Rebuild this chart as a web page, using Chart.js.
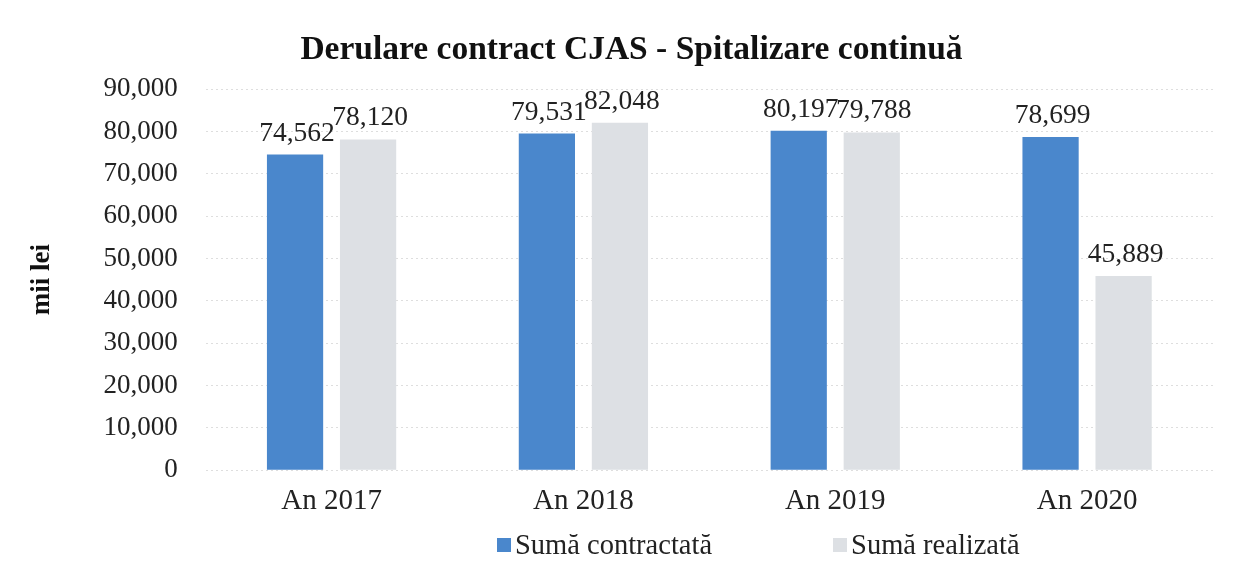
<!DOCTYPE html>
<html>
<head>
<meta charset="utf-8">
<script src="https://cdn.jsdelivr.net/npm/chart.js@4.4.1/dist/chart.umd.min.js"></script>
<style>
  html, body { margin: 0; padding: 0; background: #fff; }
  #wrap { position: relative; width: 1237px; height: 576px; }
  #legend { position: absolute; left: 497px; top: 529px; white-space: nowrap;
    font-family: "Liberation Serif", serif; font-size: 28.5px; color: #222; }
  #legend span.item { display: inline-block; margin-right: 121px; }
  #legend span.box { display: inline-block; width: 14px; height: 14px; margin-right: 4px; vertical-align: 2px; }
</style>
</head>
<body>
<div id="wrap">
  <canvas id="myChart" width="1237" height="576"></canvas>
  <div id="legend"></div>
</div>
<script>
const years = ['An 2017', 'An 2018', 'An 2019', 'An 2020'];
const contractata = [74562, 79531, 80197, 78699];
const realizata = [78120, 82048, 79788, 45889];
const seriesNames = ['Sumă contractată', 'Sumă realizată'];
const colors = ['#4a87cc', '#dde0e4'];

const serif = '"Liberation Serif", "Times New Roman", serif';

const fmt = v => v.toLocaleString('en-US');

// etichete de valoare deasupra barelor
const valueLabels = {
  id: 'valueLabels',
  afterDatasetsDraw(chart) {
    const ctx = chart.ctx;
    ctx.save();
    ctx.font = '27.5px ' + serif;
    ctx.fillStyle = '#222';
    ctx.textAlign = 'center';
    ctx.textBaseline = 'alphabetic';
    chart.data.datasets.forEach((ds, i) => {
      chart.getDatasetMeta(i).data.forEach((bar, j) => {
        ctx.fillText(fmt(ds.data[j]), bar.x + 2, bar.y - 14);
      });
    });
    ctx.restore();
  }
};

const data = {
  labels: years,
  datasets: [
    { label: seriesNames[0], data: contractata, backgroundColor: colors[0] },
    { label: seriesNames[1], data: realizata, backgroundColor: colors[1] }
  ]
};

const config = {
  type: 'bar',
  data,
  options: {
    responsive: false,
    animation: false,
    layout: { padding: { top: 30, left: 50, right: 24, bottom: 51 } },
    datasets: { bar: { categoryPercentage: 0.58, barPercentage: 0.77 } },
    plugins: {
      legend: { display: false },
      tooltip: { enabled: false },
      title: {
        display: true,
        text: 'Derulare contract CJAS - Spitalizare continuă',
        color: '#111',
        font: { family: serif, size: 33.5, weight: 'bold' },
        padding: { top: 0, bottom: 19 }
      }
    },
    scales: {
      x: {
        grid: { display: false },
        border: { display: false },
        ticks: { color: '#222', font: { family: serif, size: 29 }, padding: 6 }
      },
      y: {
        min: 0, max: 90000,
        border: { display: false, dash: [2, 3] },
        grid: { color: 'rgba(0,0,0,0.13)', drawTicks: false },
        ticks: { stepSize: 10000, color: '#222', font: { family: serif, size: 27 }, padding: 28,
          callback: v => fmt(v) },
        title: {
          display: true, text: 'mii lei', color: '#111',
          font: { family: serif, size: 27, weight: 'bold' },
          padding: { top: -24, bottom: 17 }
        }
      }
    }
  },
  plugins: [valueLabels]
};

const canvas = document.getElementById('myChart');
const chart = new Chart(canvas, config);

const legend = document.getElementById('legend');
legend.innerHTML = seriesNames.map((n, i) =>
  '<span class="item"><span class="box" style="background:' + colors[i] + '"></span>' + n + '</span>'
).join('');
</script>
</body>
</html>
